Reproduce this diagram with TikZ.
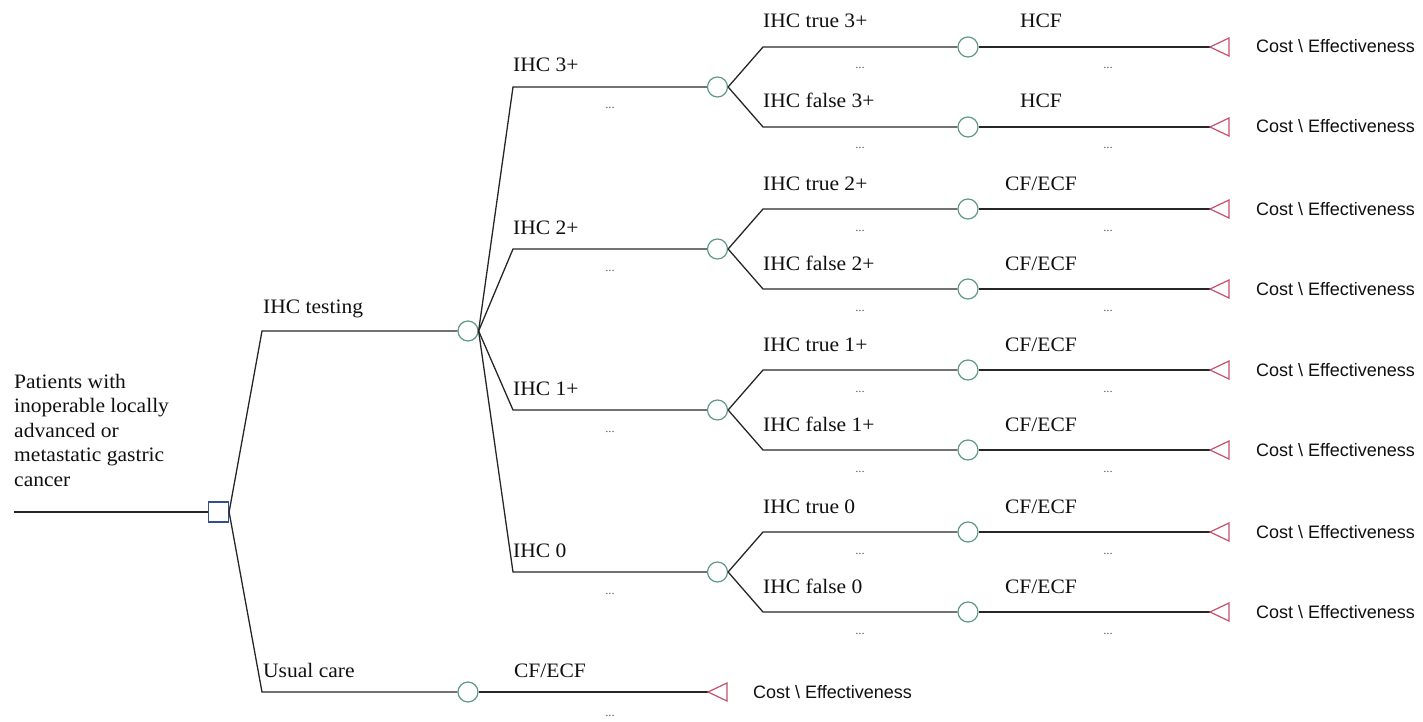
\documentclass[tikz,border=0pt]{standalone}
\usepackage{fontspec}
\setmainfont[FakeStretch=1.05]{Liberation Serif}
\newfontfamily\arialf{Liberation Sans}
\definecolor{linecol}{HTML}{262626}
\definecolor{chancecol}{HTML}{5F9A82}
\definecolor{deccol}{HTML}{34508A}
\definecolor{termcol}{HTML}{C4506C}
\definecolor{txtcol}{HTML}{101010}
\begin{document}
\begin{tikzpicture}[x=1pt,y=-1pt,
  edge/.style={draw=linecol,line width=1.3pt},
  chance/.style={circle,draw=chancecol,fill=white,line width=1.2pt,minimum size=20pt,inner sep=0pt},
  decision/.style={rectangle,draw=deccol,fill=white,line width=1.2pt,minimum size=20pt,inner sep=0pt},
  termtri/.style={draw=termcol,line width=1.2pt,line join=miter},
  lab/.style={anchor=base west,inner sep=0pt,text=txtcol,font=\fontsize{20.5}{24}\selectfont},
  outlab/.style={anchor=base,inner sep=0pt,text=txtcol,font=\fontsize{20.5}{24}\selectfont},
  costlab/.style={anchor=base west,inner sep=0pt,text=txtcol,font=\arialf\fontsize{18}{20}\selectfont},
  dotlab/.style={anchor=base,inner sep=0pt,text=black!65,font=\fontsize{12}{14}\selectfont},
  rootlab/.style={anchor=base west,inner sep=0pt,text=txtcol,font=\fontsize{20.5}{24}\selectfont}
]
\useasboundingbox (0,0) rectangle (1423,722);

% root
\node[rootlab] (r1) at (14,388) {Patients with};
\node[rootlab] (r2) at (14,412.5) {inoperable locally};
\node[rootlab] (r3) at (14,437) {advanced or};
\node[rootlab] (r4) at (14,461.5) {metastatic gastric};
\node[rootlab] (r5) at (14,486) {cancer};
\coordinate (start) at (14,512);
\node[decision] (D) at (218.5,512) {};
\draw[edge] (start) -- (D.west);

% IHC testing
\coordinate (B1) at (262,331);
\node[chance] (C1) at (468,331) {};
\draw[edge] (D.east) -- (B1) -- (C1.west);
\node[lab] (L1) at (263,313) {IHC testing};

% Usual care
\coordinate (B0) at (262,692);
\node[chance] (C0) at (468,692) {};
\draw[edge] (D.east) -- (B0) -- (C0.west);
\node[lab] (L0) at (263,677) {Usual care};
\coordinate (T0) at (708,692);
\draw[edge] (C0.east) -- (T0);
\draw[termtri] (T0) -- ++(19,-9) -- ++(0,18) -- cycle;
\node[outlab] (O0) at (550,677) {CF/ECF};
\node[dotlab] (M0) at (610,716) {...};
\node[costlab] (K0) at (753,698) {Cost \textbackslash{} Effectiveness};

% IHC branches
\foreach \k/\y/\g/\out in {a/87/3+/HCF, b/249/2+/{CF/ECF}, c/410/1+/{CF/ECF}, d/572/0/{CF/ECF}} {
  \coordinate (B\k) at (513,\y);
  \node[chance] (C\k) at (717.5,\y) {};
  \draw[edge] (C1.east) -- (B\k) -- (C\k.west);
  \node[lab] (L\k) at (513,\y-15) {IHC \g};
  \node[dotlab] (M\k) at (610,\y+22) {...};
  \foreach \s/\dy/\tf in {t/-40/true, f/40/false} {
    \coordinate (B\k\s) at (763,\y+\dy);
    \node[chance] (C\k\s) at (968,\y+\dy) {};
    \draw[edge] (C\k.east) -- (B\k\s) -- (C\k\s.west);
    \node[lab] (L\k\s) at (763,\y+\dy-19) {IHC \tf{} \g};
    \node[dotlab] (M\k\s) at (860,\y+\dy+22) {...};
    \coordinate (T\k\s) at (1210,\y+\dy);
    \draw[edge] (C\k\s.east) -- (T\k\s);
    \draw[termtri] (T\k\s) -- ++(19,-9) -- ++(0,18) -- cycle;
    \node[outlab] (O\k\s) at (1041,\y+\dy-19) {\out};
    \node[dotlab] (N\k\s) at (1108,\y+\dy+22) {...};
    \node[costlab] (K\k\s) at (1256,\y+\dy+6) {Cost \textbackslash{} Effectiveness};
  }
}
\end{tikzpicture}
\end{document}
